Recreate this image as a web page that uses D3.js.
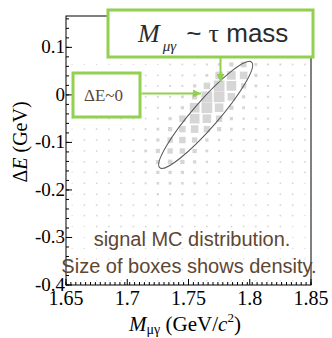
<!DOCTYPE html>
<html>
<head>
<meta charset="utf-8">
<script src="https://cdn.jsdelivr.net/npm/d3@7"></script>
<style>
  html, body { margin: 0; padding: 0; background: #fff; }
  svg { display: block; }
</style>
</head>
<body>
<div id="chart"></div>
<script>
// bin centres of the 2D histogram
const mBins = [1.655, 1.665, 1.675, 1.685, 1.695, 1.705, 1.715, 1.725, 1.735, 1.745,
               1.755, 1.765, 1.775, 1.785, 1.795, 1.805, 1.815, 1.825, 1.835, 1.845];
const dEBins = [0.155, 0.132, 0.109, 0.087, 0.064, 0.041, 0.019, -0.004, -0.027, -0.050,
                -0.072, -0.095, -0.118, -0.141, -0.163, -0.186, -0.209, -0.232, -0.254, -0.277,
                -0.300, -0.323, -0.345, -0.368, -0.391];

// density per bin, one row per dEBins entry (top to bottom), one column per mBins entry
const density = [
  [0,0,0,0,0,0,0,0,0,0, 0,0,0,0,0,0,0,0,0,0],
  [0,0,0,0,0,0,0,0,0,0, 0,0,0,0,0,0,0,0,0,0],
  [0,0,0,0,0,0,0,0,0,1, 1,1,2,3,4,2,1,1,1,0],
  [0,0,0,0,0,0,0,0,1,1, 1,2,4,8,10,4,2,1,1,1],
  [1,1,1,1,1,1,1,1,2,2, 2,3,5,14,25,6,3,3,2,2],
  [0,0,0,0,0,0,2,2,2,3, 3,6,44,57,44,8,3,3,2,2],
  [0,0,0,0,0,0,2,2,3,3, 8,32,89,72,22,6,3,3,2,2],
  [0,0,0,0,0,0,2,3,3,6, 22,89,89,44,8,4,3,3,2,2],
  [0,0,0,0,0,0,2,3,4,8, 72,89,57,14,6,3,3,2,2,2],
  [1,1,1,2,2,2,2,3,8,32, 72,57,32,8,4,3,3,2,2,2],
  [1,2,2,2,2,2,3,6,14,32, 44,32,14,6,4,3,3,2,2,2],
  [1,2,2,2,2,3,4,8,22,32, 22,8,4,3,3,3,2,2,2,2],
  [1,2,2,2,2,3,6,14,22,22, 14,6,3,3,3,2,2,2,2,2],
  [1,2,2,2,2,3,4,12,16,14, 8,4,3,3,2,2,2,2,2,2],
  [1,2,2,2,2,2,4,8,8,8, 5,3,3,2,2,2,2,2,2,2],
  [1,2,2,2,2,2,3,5,6,5, 4,3,2,2,2,2,2,2,2,1],
  [1,2,2,2,2,2,2,4,4,4, 3,2,2,2,2,2,2,2,2,1],
  [1,2,2,2,2,2,2,3,3,3, 2,2,2,2,2,2,2,2,2,1],
  [1,2,2,2,2,2,2,2,2,2, 2,2,2,2,2,2,2,2,2,1],
  [1,1,2,2,2,2,2,2,2,2, 2,2,2,2,2,2,2,2,1,1],
  [1,1,1,1,1,1,1,1,1,1, 1,1,1,1,1,1,1,1,1,1],
  [1,1,1,1,1,1,1,1,1,1, 1,1,1,1,1,1,1,1,1,1],
  [1,1,1,1,1,1,1,1,1,1, 1,1,1,1,1,1,1,1,1,1],
  [0,1,1,1,1,1,1,1,1,1, 1,1,1,1,1,1,1,1,1,0],
  [0,1,1,1,1,1,1,1,1,1, 1,1,1,1,1,1,1,1,1,0]
];

const xTicks = [1.65, 1.7, 1.75, 1.8, 1.85];
const xTickLabels = ["1.65", "1.7", "1.75", "1.8", "1.85"];
const yTicks = [0.1, 0, -0.1, -0.2, -0.3, -0.4];
const yTickLabels = ["0.1", "0", "-0.1", "-0.2", "-0.3", "-0.4"];

// signal region ellipse (centre in data units)
const ellipseCentre = { m: 1.764, dE: -0.042 };

const width = 332, height = 338;
const margin = { top: 16, right: 21, bottom: 53, left: 66 };
const serif = "'Liberation Serif', 'Times New Roman', serif";
const sans = "'Liberation Sans', Arial, sans-serif";
const green = "#92d050";
const brown = "#5e4631";

const svg = d3.select('#chart').append('svg')
  .attr('width', width)
  .attr('height', height);

const x = d3.scaleLinear().domain([1.65, 1.85]).range([margin.left, width - margin.right]);
const y = d3.scaleLinear().domain([-0.4, 0.166]).range([height - margin.bottom, margin.top]);
const side = d3.scaleSqrt().domain([0, 100]).range([0, 11.4]);

// boxes
const cells = [];
density.forEach((row, i) => row.forEach((v, j) => {
  if (v > 0) cells.push({ m: mBins[j], dE: dEBins[i], v: v });
}));

svg.append('g').selectAll('rect')
  .data(cells)
  .enter()
  .append('rect')
  .attr('x', d => x(d.m) - side(d.v) / 2)
  .attr('y', d => y(d.dE) - side(d.v) / 2)
  .attr('width', d => side(d.v))
  .attr('height', d => side(d.v))
  .attr('fill', '#d6d6d6');

// ellipse around the signal
svg.append('ellipse')
  .attr('transform', `translate(${x(ellipseCentre.m)},${y(ellipseCentre.dE)}) rotate(-49)`)
  .attr('rx', 70)
  .attr('ry', 13)
  .attr('fill', 'none')
  .attr('stroke', '#555')
  .attr('stroke-width', 1);

// frame
svg.append('rect')
  .attr('x', margin.left)
  .attr('y', margin.top)
  .attr('width', width - margin.left - margin.right)
  .attr('height', height - margin.top - margin.bottom)
  .attr('fill', 'none')
  .attr('stroke', '#000')
  .attr('stroke-width', 1);

// ticks (inward) - minor and major
const ax = svg.append('g').attr('stroke', '#000').attr('stroke-width', 1);
const xMinor = d3.range(0, 51).map(i => 1.65 + i * 0.004);
ax.selectAll('.xm').data(xMinor).enter().append('line')
  .attr('x1', d => x(d)).attr('x2', d => x(d))
  .attr('y1', y(-0.4)).attr('y2', y(-0.4) - 3);
ax.selectAll('.xM').data(xTicks).enter().append('line')
  .attr('x1', d => x(d)).attr('x2', d => x(d))
  .attr('y1', y(-0.4)).attr('y2', y(-0.4) - 6);
const yMinor = d3.range(0, 29).map(i => -0.4 + i * 0.02);
ax.selectAll('.ym').data(yMinor).enter().append('line')
  .attr('x1', x(1.65)).attr('x2', x(1.65) + 3)
  .attr('y1', d => y(d)).attr('y2', d => y(d));
ax.selectAll('.yM').data(yTicks).enter().append('line')
  .attr('x1', x(1.65)).attr('x2', x(1.65) + 6)
  .attr('y1', d => y(d)).attr('y2', d => y(d));

// tick labels
svg.append('g').selectAll('text')
  .data(xTicks)
  .enter()
  .append('text')
  .attr('x', d => x(d))
  .attr('y', 305)
  .attr('text-anchor', 'middle')
  .attr('font-family', serif)
  .attr('font-size', 20)
  .text((d, i) => xTickLabels[i]);

svg.append('g').selectAll('text')
  .data(yTicks)
  .enter()
  .append('text')
  .attr('x', 65)
  .attr('y', d => y(d) + 6)
  .attr('text-anchor', 'end')
  .attr('font-family', serif)
  .attr('font-size', 19)
  .text((d, i) => yTickLabels[i]);

// axis titles
const xt = svg.append('text')
  .attr('x', 185)
  .attr('y', 331)
  .attr('text-anchor', 'middle')
  .attr('font-family', serif)
  .attr('font-size', 21);
xt.append('tspan').attr('font-style', 'italic').text('M');
xt.append('tspan').attr('font-size', 14).attr('dy', 3).text('μγ');
xt.append('tspan').attr('dy', -3).text(' (GeV/');
xt.append('tspan').attr('font-style', 'italic').text('c');
xt.append('tspan').attr('font-size', 13).attr('dy', -9).text('2');
xt.append('tspan').attr('dy', 9).text(')');

const yt = svg.append('text')
  .attr('transform', 'translate(27,142) rotate(-90)')
  .attr('text-anchor', 'middle')
  .attr('font-family', serif)
  .attr('font-size', 20);
yt.append('tspan').text('Δ');
yt.append('tspan').attr('font-style', 'italic').text('E');
yt.append('tspan').text(' (GeV)');

// note inside the plot
svg.append('text')
  .attr('x', 192).attr('y', 246)
  .attr('text-anchor', 'middle')
  .attr('font-family', sans)
  .attr('font-size', 20)
  .attr('fill', brown)
  .text('signal MC distribution.');
svg.append('text')
  .attr('x', 189).attr('y', 273)
  .attr('text-anchor', 'middle')
  .attr('font-family', sans)
  .attr('font-size', 20)
  .attr('fill', brown)
  .text('Size of boxes shows density.');

// annotation boxes
svg.append('rect')
  .attr('x', 108).attr('y', 10).attr('width', 205).attr('height', 47)
  .attr('fill', '#fff').attr('stroke', green).attr('stroke-width', 3);
const mt = svg.append('text')
  .attr('x', 138).attr('y', 42)
  .attr('font-size', 26)
  .attr('fill', '#2b2b2b');
mt.append('tspan').attr('font-family', serif).attr('font-style', 'italic').text('M');
mt.append('tspan').attr('font-family', serif).attr('font-style', 'italic')
  .attr('font-size', 15).attr('dx', 3).attr('dy', 9).text('μγ');
mt.append('tspan').attr('font-family', sans).attr('dx', 10).attr('dy', -9).text('~ ');
mt.append('tspan').attr('font-family', serif).text('τ');
mt.append('tspan').attr('font-family', sans).text(' mass');

svg.append('rect')
  .attr('x', 73).attr('y', 73).attr('width', 67).attr('height', 44)
  .attr('fill', '#fff').attr('stroke', green).attr('stroke-width', 3);
svg.append('text')
  .attr('x', 84).attr('y', 101)
  .attr('font-family', serif)
  .attr('font-size', 17)
  .attr('fill', brown)
  .text('ΔE~0');

// arrows
svg.append('defs').append('marker')
  .attr('id', 'head')
  .attr('viewBox', '0 0 10 10')
  .attr('refX', 10).attr('refY', 5)
  .attr('markerWidth', 4).attr('markerHeight', 4)
  .attr('orient', 'auto')
  .append('path')
  .attr('d', 'M0,0L10,5L0,10Z')
  .attr('fill', green);

svg.append('line')
  .attr('x1', 141.5).attr('y1', 93.5).attr('x2', 201).attr('y2', 93.5)
  .attr('stroke', green).attr('stroke-width', 2)
  .attr('marker-end', 'url(#head)');
svg.append('line')
  .attr('x1', 220.5).attr('y1', 58).attr('x2', 220.5).attr('y2', 82)
  .attr('stroke', green).attr('stroke-width', 2)
  .attr('marker-end', 'url(#head)');
</script>
</body>
</html>
